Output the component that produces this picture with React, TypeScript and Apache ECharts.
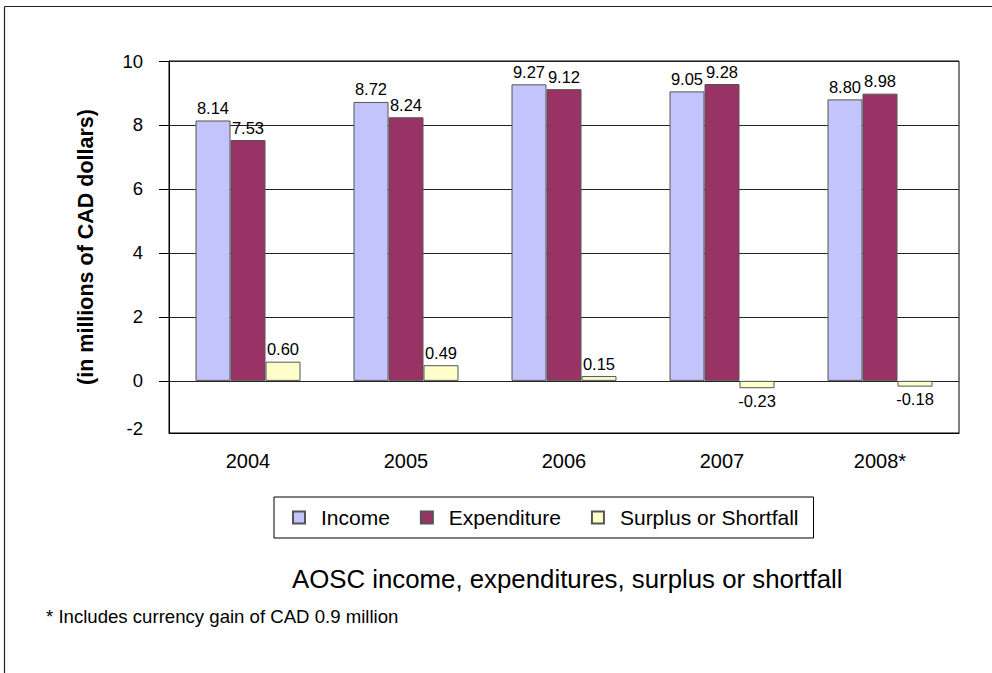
import React, { useEffect, useRef } from "react";
import * as echarts from "echarts";

const categories = ["2004", "2005", "2006", "2007", "2008*"];
const income = [8.14, 8.72, 9.27, 9.05, 8.8];
const expenditure = [7.53, 8.24, 9.12, 9.28, 8.98];
const surplus = [0.6, 0.49, 0.15, -0.23, -0.18];
const seriesNames = ["Income", "Expenditure", "Surplus or Shortfall"];
const seriesColors = ["#C4C4FC", "#993366", "#FFFFCC"];
const yTickValues = [0, 2, 4, 6, 8, 10];
const floorLabel = "-2";
const chartTitle = "AOSC income, expenditures, surplus or shortfall";
const footnote = "* Includes currency gain of CAD 0.9 million";
const yAxisTitle = "(in millions of CAD dollars)";

const FONT = "'Liberation Sans', Arial, sans-serif";

export default function App() {
  const ref = useRef<HTMLDivElement>(null);
  useEffect(() => {
    if (!ref.current) return;
    const chart = echarts.init(ref.current, null, { renderer: "svg" });
    const mkData = (vals: number[]) =>
      vals.map((v) => ({
        value: v,
        label: { position: v < 0 ? "bottom" : "top" },
      }));
    const seriesVals = [income, expenditure, surplus];
    chart.setOption({
      animation: false,
      backgroundColor: "#fff",
      textStyle: { fontFamily: FONT },
      title: [
        {
          text: chartTitle,
          left: 292,
          top: 566,
          padding: 0,
          textStyle: { fontSize: 25.8, fontWeight: "normal", color: "#000", fontFamily: FONT },
        },
        {
          text: footnote,
          left: 46,
          top: 607,
          padding: 0,
          textStyle: { fontSize: 18.6, fontWeight: "normal", color: "#000", fontFamily: FONT },
        },
      ],
      legend: {
        left: 274,
        top: 497,
        orient: "horizontal",
        borderColor: "#000",
        borderWidth: 1,
        padding: [10, 15, 10, 18],
        itemWidth: 12,
        itemHeight: 12,
        itemGap: 30,
        icon: "rect",
        textStyle: {
          fontSize: 21,
          color: "#000",
          fontFamily: FONT,
          padding: [0, 0, 0, 11],
        },
        data: seriesNames,
      },
      grid: {
        left: 169,
        top: 61,
        width: 790,
        height: 372,
        show: true,
        borderColor: "#000",
        borderWidth: 1,
        backgroundColor: "transparent",
      },
      xAxis: {
        type: "category",
        data: categories,
        position: "bottom",
        axisLine: { show: true, onZero: false, lineStyle: { color: "#000" } },
        axisTick: { show: false },
        axisLabel: { color: "#000", fontSize: 20, margin: 18, fontFamily: FONT },
        splitLine: { show: false },
      },
      yAxis: {
        type: "value",
        min: -1.63,
        max: 10,
        name: yAxisTitle,
        nameLocation: "middle",
        nameGap: 72,
        nameTextStyle: { fontSize: 21.5, fontWeight: "bold", color: "#000", fontFamily: FONT },
        axisLine: { show: true, lineStyle: { color: "#000" } },
        axisTick: {
          show: true,
          inside: false,
          length: 10,
          customValues: yTickValues,
          lineStyle: { color: "#000" },
        },
        axisLabel: {
          color: "#000",
          fontSize: 18.5,
          margin: 26,
          fontFamily: FONT,
          // the floor label of the original 3-D chart sits just above the plot floor
          customValues: [-1.48, ...yTickValues],
          formatter: (v: number) => (v < 0 ? floorLabel : String(v)),
        },
        splitLine: { show: true, lineStyle: { color: "#222", width: 1 } },
      },
      graphic: [
        { type: "line", shape: { x1: 4.5, y1: 6.5, x2: 992, y2: 6.5 }, style: { stroke: "#222", lineWidth: 1.2 } },
        { type: "line", shape: { x1: 4.5, y1: 6.5, x2: 4.5, y2: 673 }, style: { stroke: "#222", lineWidth: 1.2 } },
      ],
      series: seriesNames.map((name, i) => ({
        name,
        type: "bar",
        barWidth: 35,
        barGap: "0%",
        data: mkData(seriesVals[i]),
        itemStyle: { color: seriesColors[i], borderColor: "#555", borderWidth: 1 },
        label: {
          show: true,
          distance: 4,
          color: "#000",
          fontSize: 16.5,
          fontFamily: FONT,
          formatter: (p: any) => Number(p.value).toFixed(2),
        },
      })),
    });
    return () => chart.dispose();
  }, []);
  return (
    <div
      ref={ref}
      style={{ position: "absolute", left: 0, top: 0, width: 992, height: 673 }}
    />
  );
}
